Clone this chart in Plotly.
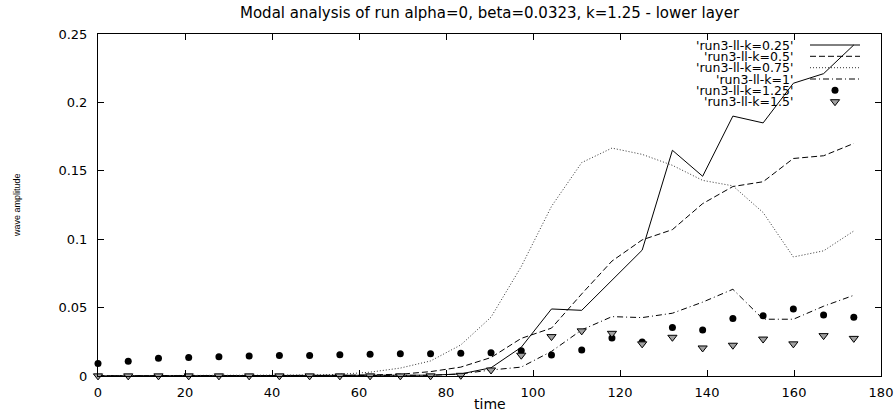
import plotly.graph_objects as go

# ---------------- data ----------------
time = [0, 6.95, 13.9, 20.85, 27.8, 34.75, 41.7, 48.65, 55.6, 62.55, 69.5, 76.45, 83.4,
        90.35, 97.3, 104.25, 111.2, 118.15, 125.1, 132.05, 139.0, 145.95, 152.9, 159.85,
        166.8, 173.75]

k_025 = [0.0001, 0.0001, 0.0001, 0.0001, 0.0001, 0.0001, 0.0001, 0.0001, 0.0001, 0.0002,
         0.0003, 0.0006, 0.0015, 0.006, 0.021, 0.049, 0.048, 0.070, 0.092, 0.165, 0.146,
         0.190, 0.185, 0.214, 0.221, 0.242]
k_05 = [0.0001, 0.0001, 0.0001, 0.0001, 0.0001, 0.0001, 0.0002, 0.0003, 0.0005, 0.0008,
        0.0013, 0.0032, 0.0065, 0.0135, 0.0275, 0.035, 0.060, 0.084, 0.0995, 0.107, 0.126,
        0.1385, 0.142, 0.159, 0.161, 0.170]
k_075 = [0.0002, 0.0002, 0.0002, 0.0002, 0.0003, 0.0003, 0.0004, 0.0007, 0.0012, 0.0028,
         0.0058, 0.011, 0.0227, 0.043, 0.080, 0.124, 0.156, 0.1666, 0.162, 0.154, 0.143,
         0.139, 0.1195, 0.087, 0.0915, 0.106]
k_1 = [0.0001, 0.0001, 0.0001, 0.0001, 0.0001, 0.0001, 0.0001, 0.0001, 0.0001, 0.0001,
       0.0002, 0.0005, 0.0015, 0.0044, 0.0065, 0.018, 0.0337, 0.0434, 0.0427, 0.0459, 0.054,
       0.0634, 0.0415, 0.0415, 0.051, 0.059]
k_125 = [0.0091, 0.0108, 0.013, 0.0135, 0.014, 0.0147, 0.015, 0.015, 0.0156, 0.0159, 0.0163,
         0.0163, 0.0166, 0.017, 0.0185, 0.0154, 0.019, 0.0278, 0.0249, 0.0354, 0.0337, 0.042,
         0.044, 0.049, 0.0446, 0.043]
k_15 = [0.0001, 0.0001, 0.0001, 0.0001, 0.0001, 0.0001, 0.0001, 0.0001, 0.0001, 0.0001,
        0.0001, 0.0001, 0.0005, 0.0044, 0.0152, 0.0288, 0.033, 0.0312, 0.0235, 0.0283, 0.0205,
        0.0225, 0.027, 0.0235, 0.0295, 0.0275]

series_names = ["'run3-ll-k=0.25'", "'run3-ll-k=0.5'", "'run3-ll-k=0.75'",
                "'run3-ll-k=1'", "'run3-ll-k=1.25'", "'run3-ll-k=1.5'"]

x_ticks = [0, 20, 40, 60, 80, 100, 120, 140, 160, 180]
y_ticks = [0, 0.05, 0.1, 0.15, 0.2, 0.25]
y_tick_labels = ["0", "0.05", "0.1", "0.15", "0.2", "0.25"]

title_text = "Modal analysis of run alpha=0, beta=0.0323, k=1.25 - lower layer"
x_title = "time"
y_title = "wave amplitude"

# ---------------- styles ----------------
FONT = "DejaVu Sans"
line_styles = [
    dict(color="black", width=1, dash="solid"),
    dict(color="black", width=1, dash="6px,3px"),
    dict(color="#333333", width=1, dash="1px,2px"),
    dict(color="black", width=1, dash="6px,3px,1px,3px"),
]
dot_marker = dict(symbol="circle", size=7, color="black", line=dict(width=0))
tri_marker = dict(symbol="triangle-down", size=8, color="#a0a0a0",
                  line=dict(color="black", width=1))

fig = go.Figure()
line_series = [k_025, k_05, k_075, k_1]
for vals, st, nm in zip(line_series, line_styles, series_names[:4]):
    fig.add_trace(go.Scatter(x=time, y=vals, mode="lines", line=st, name=nm,
                             showlegend=False))
fig.add_trace(go.Scatter(x=time, y=k_125, mode="markers", marker=dot_marker,
                         name=series_names[4], showlegend=False, cliponaxis=False))
fig.add_trace(go.Scatter(x=time, y=k_15, mode="markers", marker=tri_marker,
                         name=series_names[5], showlegend=False, cliponaxis=False))

# ---- gnuplot style key (text left, sample right) on a pixel overlay axis ----
L, R, T, B = 98, 881, 34, 376
row_y = [45, 56.3, 67.7, 79, 90.3, 101.7]
text_x = 795
sample_x0, sample_x1 = 810, 860
annotations = []
for i, nm in enumerate(series_names):
    annotations.append(dict(x=text_x, y=row_y[i], xref="x2", yref="y2", text=nm,
                            showarrow=False, xanchor="right", yanchor="middle",
                            font=dict(family=FONT, size=12.5, color="black")))
    if i < 4:
        fig.add_trace(go.Scatter(x=[sample_x0, sample_x1], y=[row_y[i], row_y[i]],
                                 mode="lines", line=line_styles[i], xaxis="x2", yaxis="y2",
                                 showlegend=False, hoverinfo="skip"))
fig.add_trace(go.Scatter(x=[(sample_x0 + sample_x1) / 2], y=[row_y[4]], mode="markers",
                         marker=dot_marker, xaxis="x2", yaxis="y2", showlegend=False,
                         hoverinfo="skip"))
fig.add_trace(go.Scatter(x=[(sample_x0 + sample_x1) / 2], y=[row_y[5]], mode="markers",
                         marker=tri_marker, xaxis="x2", yaxis="y2", showlegend=False,
                         hoverinfo="skip"))

H = B - T
annotations += [
    dict(x=0.5, y=(B - 13) / H, xref="paper", yref="paper", text=title_text,
         showarrow=False, xanchor="center", yanchor="middle",
         font=dict(family=FONT, size=15, color="black")),
    dict(x=0.5, y=(B - 404) / H, xref="paper", yref="paper", text=x_title,
         showarrow=False, xanchor="center", yanchor="middle",
         font=dict(family=FONT, size=14, color="black")),
    dict(x=(17 - L) / (R - L), y=(B - 205) / H, xref="paper", yref="paper", text=y_title,
         showarrow=False, xanchor="center", yanchor="middle", textangle=-90,
         font=dict(family="Liberation Sans", size=9, color="black")),
]

axis_common = dict(showline=True, linecolor="black", linewidth=1, mirror="ticks",
                   ticks="inside", ticklen=6, tickcolor="black", tickwidth=1,
                   showgrid=False, zeroline=False,
                   tickfont=dict(family=FONT, size=13, color="black"))

fig.update_layout(
    width=895, height=412,
    margin=dict(l=L, r=895 - R, t=T, b=412 - B, autoexpand=False),
    paper_bgcolor="white", plot_bgcolor="white",
    xaxis=dict(range=[0, 180], tickvals=x_ticks, ticklabelstandoff=4, **axis_common),
    yaxis=dict(range=[0, 0.25], tickvals=y_ticks, ticktext=y_tick_labels,
               ticklabelstandoff=7, **axis_common),
    xaxis2=dict(range=[L, R], overlaying="x", visible=False, domain=[0, 1]),
    yaxis2=dict(range=[B, T], overlaying="y", visible=False, domain=[0, 1]),
    annotations=annotations,
    showlegend=False,
)

fig.write_html("out.html", config={"displayModeBar": False},
               post_script="document.body.style.margin='0';"
                           "document.body.style.overflow='hidden';")
